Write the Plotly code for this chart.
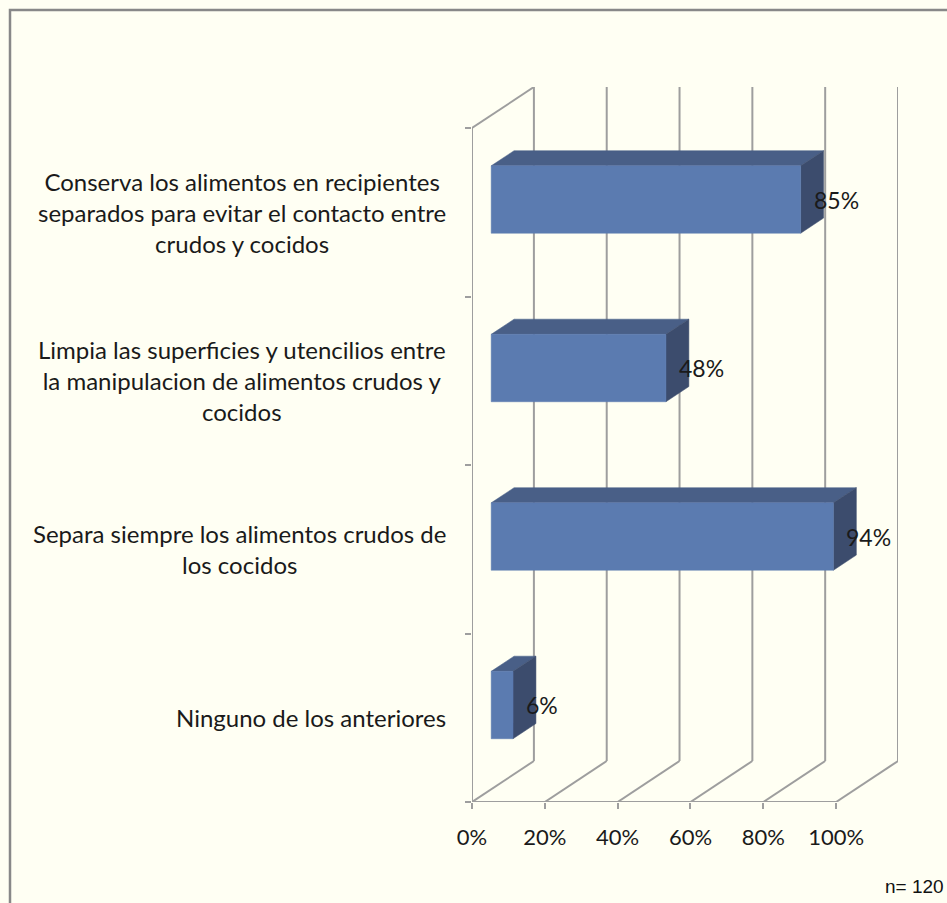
import plotly.graph_objects as go

# --- data -----------------------------------------------------------------
categories = [
    "Conserva los alimentos en recipientes<br>separados para evitar el contacto entre<br>crudos y cocidos",
    "Limpia las superficies y utencilios entre<br>la manipulacion de alimentos crudos y<br>cocidos",
    "Separa siempre los alimentos crudos de<br>los cocidos",
    "Ninguno de los anteriores",
]
values = [85, 48, 94, 6]
tick_values = [0, 20, 40, 60, 80, 100]
tick_labels = ["0%", "20%", "40%", "60%", "80%", "100%"]
sample_note = "n= 120"

# --- page geometry --------------------------------------------------------
W, H = 947, 903
ML, MR, MT, MB = 472, 49, 87, 101
PW, PH = W - ML - MR, H - MT - MB

N = len(categories)
DX = 17.0                      # depth offset along x (value units)
DY = 164 / 674                 # depth offset along y (category units)
F_FRONT, F_BACK = 0.31, 0.68   # bar position inside the depth
BAR_LO, BAR_HI = 0.30, 0.70    # bar thickness inside a category band

BG = "#FFFFF3"
GRID = "#9E9E9E"
FRONT = "#5B7BB0"
TOP = "#495F87"
SIDE = "#3C4C6D"
FONT = "Lato"
TEXT = "#1A1A1A"


def px_x(p):
    return (p - ML) / PW


def px_y(p):
    return (H - MB - p) / PH


def depth(x, y, f):
    return x + f * DX, y + f * DY


fig = go.Figure()
shapes = []


def seg(x0, y0, x1, y1, color=GRID, width=2):
    shapes.append(dict(type="line", xref="x", yref="y", x0=x0, y0=y0, x1=x1, y1=y1,
                       line=dict(color=color, width=width), layer="below"))


# walls and floor grid
for t in tick_values:
    seg(t + DX, DY, t + DX, N + DY)        # back wall verticals
    seg(t, 0, t + DX, DY)                  # floor diagonals
seg(0, 0, 0, N)                            # left front edge
seg(0, N, DX, N + DY)                      # top of left wall
seg(0, 0, tick_values[-1], 0)              # front floor edge


def face(pts, color):
    xs = [p[0] for p in pts] + [pts[0][0]]
    ys = [p[1] for p in pts] + [pts[0][1]]
    fig.add_trace(go.Scatter(x=xs, y=ys, mode="lines", fill="toself", fillcolor=color,
                             line=dict(color=color, width=0.5), hoverinfo="skip",
                             showlegend=False))


# 3-D bars
for k, v in enumerate(values):
    i = N - 1 - k
    y0, y1 = i + BAR_LO, i + BAR_HI
    front = [depth(0, y0, F_FRONT), depth(v, y0, F_FRONT),
             depth(v, y1, F_FRONT), depth(0, y1, F_FRONT)]
    top = [depth(0, y1, F_FRONT), depth(v, y1, F_FRONT),
           depth(v, y1, F_BACK), depth(0, y1, F_BACK)]
    side = [depth(v, y0, F_FRONT), depth(v, y0, F_BACK),
            depth(v, y1, F_BACK), depth(v, y1, F_FRONT)]
    face(top, TOP)
    face(side, SIDE)
    face(front, FRONT)

annotations = []
for k, (cat, v) in enumerate(zip(categories, values)):
    i = N - 1 - k
    annotations.append(dict(
        text=cat, xref="paper", yref="y", x=px_x(448), y=i + 0.5,
        xanchor="right", yanchor="middle", align="center", showarrow=False,
        font=dict(family=FONT, size=24, color=TEXT)))
    lx, ly = depth(v, i + 0.5, F_FRONT)
    annotations.append(dict(
        text=f"{v}%", xref="x", yref="y", x=lx, y=ly, xanchor="left", yanchor="middle",
        xshift=11, showarrow=False, font=dict(family=FONT, size=23, color=TEXT)))

annotations.append(dict(
    text=sample_note, xref="paper", yref="paper", x=px_x(946), y=px_y(886),
    xanchor="right", yanchor="middle", showarrow=False,
    font=dict(family="Liberation Sans", size=19, color="#111111")))

# outer frame (right and bottom edges fall outside the page)
shapes.append(dict(type="rect", xref="paper", yref="paper",
                   x0=px_x(10), y0=px_y(10), x1=px_x(960), y1=px_y(920),
                   line=dict(color="#888888", width=2.5), fillcolor="rgba(0,0,0,0)",
                   layer="below"))

fig.update_layout(
    width=W, height=H,
    margin=dict(l=ML, r=MR, t=MT, b=MB, pad=0),
    paper_bgcolor=BG, plot_bgcolor=BG,
    showlegend=False,
    shapes=shapes,
    annotations=annotations,
    xaxis=dict(range=[0, tick_values[-1] + DX], tickvals=tick_values, ticktext=tick_labels,
               ticks="outside", ticklen=6, tickwidth=2, tickcolor=GRID,
               showgrid=False, zeroline=False, showline=False, ticklabelstandoff=10,
               tickfont=dict(family=FONT, size=22, color=TEXT), fixedrange=True),
    yaxis=dict(range=[0, N + DY], tickvals=list(range(N + 1)), ticks="outside",
               ticklen=6, tickwidth=2, tickcolor=GRID, showticklabels=False,
               showgrid=False, zeroline=False, showline=False, fixedrange=True),
)

fig.write_html("out.html")
